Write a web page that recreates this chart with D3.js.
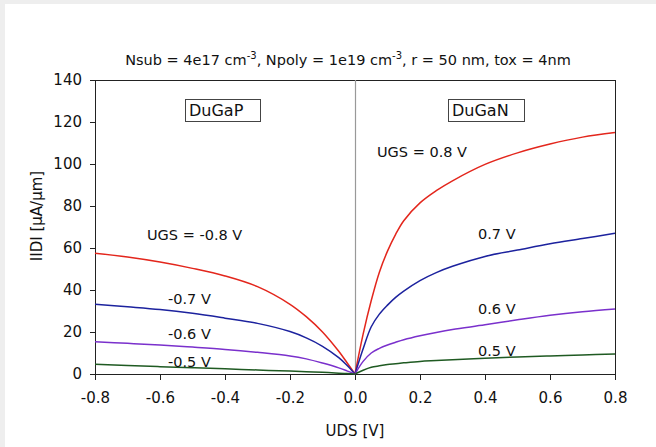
<!DOCTYPE html>
<html><head><meta charset="utf-8">
<script src="https://cdn.jsdelivr.net/npm/d3@7"></script>
<style>
html,body{margin:0;padding:0;background:#eeeeee;}
svg{display:block;}
text{font-family:"DejaVu Sans",Verdana,sans-serif;fill:#111;}
</style></head>
<body>
<svg id="chart" width="656" height="447"></svg>
<script>
// ---- data ----
const udsRight = [0, 0.025, 0.05, 0.075, 0.1, 0.125, 0.15, 0.2, 0.25, 0.3, 0.4, 0.5, 0.6, 0.7, 0.8];
const udsLeft  = [-0.8, -0.7, -0.6, -0.5, -0.4, -0.3, -0.2, -0.15, -0.1, -0.05, -0.025, 0];

const nUgs08 = [0, 19, 35, 48.5, 58.5, 66.5, 73, 81.5, 87.3, 92, 99.8, 105.3, 109.5, 112.8, 115];
const nUgs07 = [0, 12, 22.5, 28.5, 32.8, 36.5, 39.5, 44.5, 48.3, 51.3, 56, 59, 62, 64.5, 67];
const nUgs06 = [0, 6, 10, 12.2, 13.8, 15.1, 16.3, 18.2, 19.8, 21.2, 23.4, 25.8, 28, 29.7, 31];
const nUgs05 = [0, 1.8, 3.2, 3.9, 4.5, 4.9, 5.3, 6, 6.4, 6.8, 7.5, 8.1, 8.6, 9.1, 9.5];

const pUgs08 = [57.5, 55.7, 53.3, 50.3, 46.7, 41.6, 33.2, 27.3, 20, 10.8, 5.5, 0];
const pUgs07 = [33.2, 32, 30.7, 28.9, 26.6, 24.1, 20.2, 17.2, 13.2, 7.8, 4.2, 0];
const pUgs06 = [15.4, 14.6, 13.8, 12.8, 11.7, 10.3, 8.6, 7.2, 5.2, 2.9, 1.5, 0];
const pUgs05 = [4.6, 4.0, 3.5, 3.0, 2.5, 1.9, 1.4, 1.1, 0.8, 0.4, 0.2, 0];

const xTicks = [-0.8, -0.6, -0.4, -0.2, 0, 0.2, 0.4, 0.6, 0.8];
const yTicks = [0, 20, 40, 60, 80, 100, 120, 140];

const titleText = "Nsub = 4e17 cm";
const xLabel = "UDS [V]";
const yLabel = "IIDI [\u00b5A/\u00b5m]";

const seriesColors = ["#e3261c", "#1c229e", "#7a30cc", "#1f5a22"];

// ---- drawing ----
const svg = d3.select("#chart");
svg.append("rect").attr("x", 5).attr("y", 4).attr("width", 651).attr("height", 443).attr("fill", "#ffffff");

const x = d3.scaleLinear().domain([-0.8, 0.8]).range([95, 615]);
const y = d3.scaleLinear().domain([0, 140]).range([374, 80]);

// frame
svg.append("line").attr("x1", 95).attr("x2", 615).attr("y1", 80.5).attr("y2", 80.5).attr("stroke", "#222");
svg.append("line").attr("x1", 615.5).attr("x2", 615.5).attr("y1", 80).attr("y2", 374).attr("stroke", "#222");
// zero line
svg.append("line").attr("x1", Math.round(x(0)) + 0.5).attr("x2", Math.round(x(0)) + 0.5)
  .attr("y1", 80).attr("y2", 374).attr("stroke", "#999").attr("stroke-width", 1.2);

const xAxis = svg.append("g").attr("transform", "translate(0,374)")
  .call(d3.axisBottom(x).tickValues(xTicks).tickFormat(d3.format(".1f")).tickSize(6).tickPadding(12));
const yAxis = svg.append("g").attr("transform", "translate(95,0)")
  .call(d3.axisLeft(y).tickValues(yTicks).tickSize(5).tickPadding(8));
[xAxis, yAxis].forEach(a => {
  a.selectAll("path").attr("stroke", "#222");
  a.selectAll("line").attr("stroke", "#222");
  a.selectAll("text").style("font-family", "'DejaVu Sans',Verdana,sans-serif").style("font-size", "15px").attr("fill", "#111");
});
xAxis.selectAll("text").text(d => d === 0 ? "0.0" : d3.format(".1f")(d).replace("\u2212", "-"));

const line = d3.line().x(d => x(d[0])).y(d => y(d[1])).curve(d3.curveCatmullRom.alpha(0.5));
const rightSeries = [nUgs08, nUgs07, nUgs06, nUgs05];
const leftSeries = [pUgs08, pUgs07, pUgs06, pUgs05];
rightSeries.forEach((s, i) => {
  svg.append("path").datum(udsRight.map((u, j) => [u, s[j]]))
    .attr("d", line).attr("fill", "none").attr("stroke", seriesColors[i]).attr("stroke-width", 1.5);
});
leftSeries.forEach((s, i) => {
  svg.append("path").datum(udsLeft.map((u, j) => [u, s[j]]))
    .attr("d", line).attr("fill", "none").attr("stroke", seriesColors[i]).attr("stroke-width", 1.5);
});

// title with superscripts
const t = svg.append("text").attr("x", 348).attr("y", 65).attr("text-anchor", "middle").style("font-size", "14.5px");
t.append("tspan").text(titleText);
t.append("tspan").attr("dy", -6).style("font-size", "10px").text("-3");
t.append("tspan").attr("dy", 6).text(", Npoly = 1e19 cm");
t.append("tspan").attr("dy", -6).style("font-size", "10px").text("-3");
t.append("tspan").attr("dy", 6).text(", r = 50 nm, tox = 4nm");

// axis labels
svg.append("text").attr("x", 355).attr("y", 436).attr("text-anchor", "middle").style("font-size", "15px").text(xLabel);
svg.append("text").attr("transform", "translate(42,216) rotate(-90)").attr("text-anchor", "middle").style("font-size", "15px").text(yLabel);

// boxes
function box(x0, y0, w, h, label) {
  svg.append("rect").attr("x", x0 + 0.5).attr("y", y0 + 0.5).attr("width", w).attr("height", h)
    .attr("fill", "#fff").attr("stroke", "#444").attr("stroke-width", 1);
  svg.append("text").attr("x", x0 + 4).attr("y", y0 + h - 5).style("font-size", "16px").text(label);
}
box(185, 99, 75, 22, "DuGaP");
box(448, 99, 76, 22, "DuGaN");

// curve labels
const labels = [
  ["UGS = -0.8 V", 147, 240], ["-0.7 V", 168, 304], ["-0.6 V", 168, 339], ["-0.5 V", 168, 367],
  ["UGS = 0.8 V", 377, 157], ["0.7 V", 478, 239], ["0.6 V", 478, 314], ["0.5 V", 478, 356]
];
labels.forEach(l => {
  svg.append("text").attr("x", l[1]).attr("y", l[2]).style("font-size", "14.5px").text(l[0]);
});
</script>
</body></html>
